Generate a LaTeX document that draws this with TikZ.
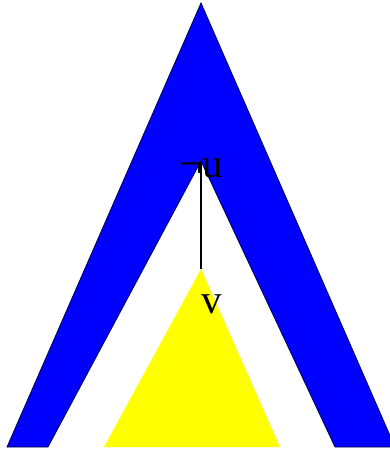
\documentclass[tikz,border=0pt]{standalone}
\usepackage{fontspec}
\setmainfont{Liberation Serif}
\definecolor{pureyellow}{RGB}{255,255,0}
\definecolor{pureblue}{RGB}{0,0,255}
\begin{document}
\begin{tikzpicture}[x=1pt,y=-1pt,
  outershape/.style={fill=pureblue,draw=black!70!blue,line width=0.8pt,line join=miter},
  innertri/.style={fill=pureyellow,draw=none},
  edge/.style={draw=black,line width=1.4pt},
  lbl/.style={font=\fontsize{41}{48}\selectfont,inner sep=0pt,anchor=base}]
\useasboundingbox (0,0) rectangle (390,452);
\begin{scope}
\clip (0,0) rectangle (390,452);
\path[outershape] (7,447) -- (201,3) -- (395,447) -- (335,447) -- (201,161) -- (48,447) -- cycle;
\path[innertri] (104,447) -- (201,269) -- (280,447) -- cycle;
\end{scope}
\coordinate (ua) at (201,161);
\coordinate (va) at (201,269);
\draw[edge] (ua) -- (va);
\node[lbl] (ulabel) at (201.5,177) {¬u};
\node[lbl] (vlabel) at (212,313) {v};
\end{tikzpicture}
\end{document}
